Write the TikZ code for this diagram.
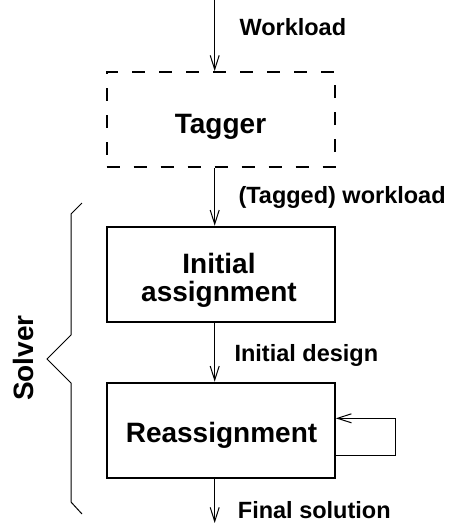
\documentclass[tikz,border=0pt]{standalone}
\usepackage{fontspec}
\setmainfont{Liberation Sans}
\usetikzlibrary{arrows.meta}
\tikzset{
  box/.style={draw, line width=2pt, minimum width=228pt, minimum height=95pt, inner sep=0pt},
  dbox/.style={box, dash pattern=on 13pt off 14pt},
  boxtext/.style={font=\fontsize{28}{29}\selectfont\bfseries, inner sep=0pt, anchor=base},
  lbl/.style={font=\fontsize{23.5}{28}\selectfont\bfseries, inner sep=0pt, anchor=base west},
  flow/.style={line width=1pt, -{Straight Barb[length=14pt,width=9pt,line width=1pt]}},
  thin/.style={line width=1pt}
}
\begin{document}
\begin{tikzpicture}[x=1pt,y=-1pt]
\useasboundingbox (0,0) rectangle (453,523);
% boxes
\node[dbox] (tagger) at (220.5,119.5) {};
\node[box] (init) at (220.8,274.2) {};
\node[box] (reas) at (220.8,430.2) {};
% box texts
\node[boxtext] (taggertxt) at (220.5,133.3) {Tagger};
\node[boxtext] (inittxt1) at (219,273.3) {Initial};
\node[boxtext] (inittxt2) at (219,301.7) {assignment};
\node[boxtext] (reastxt) at (221.5,442.3) {Reassignment};
% connector ends
\coordinate (wtop) at (214.7,0);
\coordinate (fend) at (214.7,523);
\coordinate (loopa) at (395,455);
\coordinate (loopb) at (395,418.3);
% arrows
\draw[flow] (wtop) -- (tagger.north -| wtop);
\draw[flow] (tagger.south -| wtop) -- (init.north -| wtop);
\draw[flow] (init.south -| wtop) -- (reas.north -| wtop);
\draw[flow] (reas.south -| wtop) -- (fend);
\draw[flow] (reas.east |- loopa) -- (loopa) -- (loopb) -- (reas.east |- loopb);
% labels
\node[lbl] (lw) at (239.3,35) {Workload};
\node[lbl] (ltw) at (238.3,203.3) {(Tagged) workload};
\node[lbl] (lid) at (234.3,361.7) {Initial design};
\node[lbl] (lfs) at (237.7,518.3) {Final solution};
% brace
\coordinate (b1) at (82,203);
\coordinate (b2) at (71,214);
\coordinate (b3) at (71,335);
\coordinate (b4) at (47,359);
\coordinate (b5) at (71,383);
\coordinate (b6) at (71,502);
\coordinate (b7) at (82,514);
\draw[thin] (b1) -- (b2) -- (b3) -- (b4) -- (b5) -- (b6) -- (b7);
\node[font=\fontsize{28}{29}\selectfont\bfseries, inner sep=0pt, rotate=90] (solver) at (23.3,358) {Solver};
\end{tikzpicture}
\end{document}
